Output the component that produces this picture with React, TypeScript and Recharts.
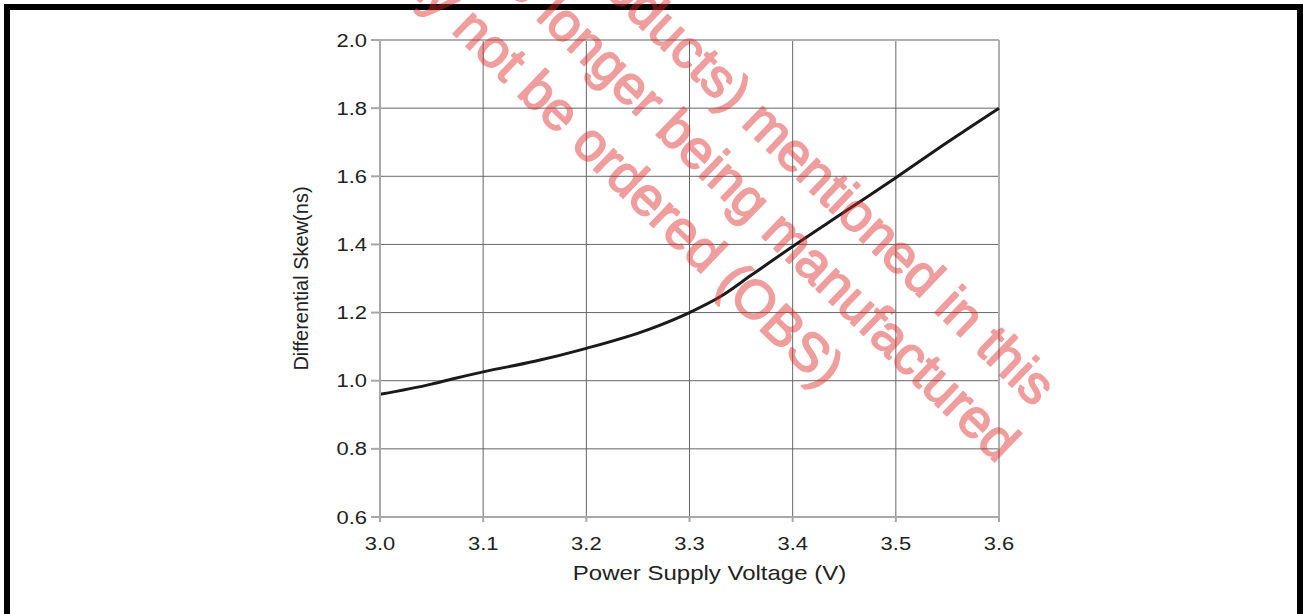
import { CartesianGrid, Label, Line, LineChart, ReferenceLine, XAxis, YAxis } from 'recharts'

// values
const voltage = [3.0, 3.05, 3.07, 3.1, 3.15, 3.2, 3.26, 3.3, 3.33, 3.36, 3.4, 3.45, 3.5, 3.55, 3.6]
const skew = [0.96, 0.99, 1.005, 1.026, 1.057, 1.095, 1.15, 1.2, 1.247, 1.31, 1.394, 1.495, 1.596, 1.7, 1.8]
const xTicks = [3.0, 3.1, 3.2, 3.3, 3.4, 3.5, 3.6]
const yTicks = [0.6, 0.8, 1.0, 1.2, 1.4, 1.6, 1.8, 2.0]
const watermarkLines = ['(products) mentioned in this', 'no longer being manufactured', 'may not be ordered (OBS)']

const data = voltage.map((v, i) => ({ v, skew: skew[i] }))

const FONT = '"Liberation Sans", Arial, sans-serif'

const XTick = ({ x, y, payload }: any) => (
  <g transform={`translate(${x},${y}) scale(1.22,1)`}>
    <text x={0} y={0} dy={26} textAnchor="middle" fontSize={18} fill="#222" fontFamily={FONT}>
      {Number(payload.value).toFixed(1)}
    </text>
  </g>
)

const YTick = ({ x, y, payload }: any) => (
  <g transform={`translate(${x},${y}) scale(1.22,1)`}>
    <text x={0} y={0} dy={6.5} textAnchor="end" fontSize={18} fill="#222" fontFamily={FONT}>
      {Number(payload.value).toFixed(1)}
    </text>
  </g>
)

const XLabel = ({ viewBox }: any) => {
  const cx = viewBox.x + viewBox.width / 2 + 20
  return (
    <g transform={`translate(${cx},${viewBox.y + 63}) scale(1.2,1)`}>
      <text x={0} y={0} textAnchor="middle" fontSize={20} fill="#222" fontFamily={FONT}>
        Power Supply Voltage (V)
      </text>
    </g>
  )
}

const YLabel = ({ viewBox }: any) => {
  const cx = viewBox.x + 28
  const cy = viewBox.y + viewBox.height / 2
  return (
    <text x={cx} y={cy} transform={`rotate(-90, ${cx}, ${cy})`} textAnchor="middle" fontSize={20} fill="#222" fontFamily={FONT}>
      Differential Skew(ns)
    </text>
  )
}

// watermark line ends, rotated 44deg
const wmEnds = [
  [1034, 408],
  [997, 464],
  [822, 390],
]

export default function App() {
  return (
    <div style={{ position: 'relative', width: 1303, height: 614, overflow: 'hidden', background: '#fff' }}>
      <style>{'body{margin:0}'}</style>
      <LineChart width={1303} height={614} data={data} margin={{ top: 40, right: 304, left: 280, bottom: 37 }}>
        <CartesianGrid stroke="#666" strokeWidth={1} />
        <XAxis
          dataKey="v"
          type="number"
          domain={[3.0, 3.6]}
          ticks={xTicks}
          height={60}
          stroke="#a8a8a8"
          strokeWidth={2}
          tickSize={5}
          tickMargin={2}
          tick={<XTick />}
        >
          <Label content={<XLabel />} />
        </XAxis>
        <YAxis
          type="number"
          domain={[0.6, 2.0]}
          ticks={yTicks}
          width={100}
          stroke="#a8a8a8"
          strokeWidth={2}
          tickSize={9}
          tickMargin={4}
          tick={<YTick />}
        >
          <Label content={<YLabel />} />
        </YAxis>
        <ReferenceLine y={2.0} stroke="#b0b0b0" strokeWidth={2} />
        <ReferenceLine x={3.6} stroke="#b0b0b0" strokeWidth={2} />
        <Line type="monotone" dataKey="skew" stroke="#1a1a1a" strokeWidth={3} dot={false} isAnimationActive={false} />
      </LineChart>
      <div
        style={{
          position: 'absolute',
          left: 4,
          top: 4,
          width: 1299,
          height: 700,
          boxSizing: 'border-box',
          borderTop: '6px solid #000',
          borderLeft: '6px solid #000',
          borderRight: '6px solid #000',
        }}
      />
      <svg width={1303} height={614} style={{ position: 'absolute', left: 0, top: 0, pointerEvents: 'none' }}>
        <g opacity={0.45} fill="rgb(220,40,40)" stroke="rgb(220,40,40)" strokeWidth={1.8} strokeLinejoin="round">
          {watermarkLines.map((t, i) => (
            <text
              key={t}
              x={wmEnds[i][0]}
              y={wmEnds[i][1]}
              transform={`rotate(44, ${wmEnds[i][0]}, ${wmEnds[i][1]})`}
              textAnchor="end"
              fontSize={54}
              fontFamily={FONT}
            >
              {t}
            </text>
          ))}
        </g>
      </svg>
    </div>
  )
}
